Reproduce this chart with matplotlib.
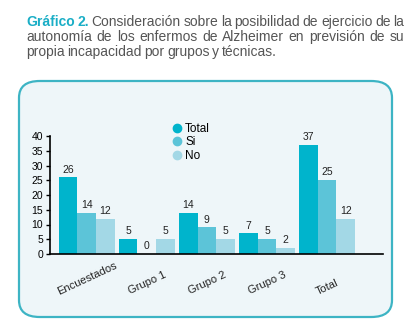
import matplotlib
matplotlib.use("Agg")
import matplotlib.pyplot as plt
import numpy as np
from matplotlib.patches import FancyBboxPatch
from matplotlib.lines import Line2D

# datos
grupos = ["Encuestados", "Grupo 1", "Grupo 2", "Grupo 3", "Total"]
series = ["Total", "Si", "No"]
total = [26, 5, 14, 7, 37]
si = [14, 0, 9, 5, 25]
no = [12, 5, 5, 2, 12]

colores = ["#00b4cc", "#5cc4d8", "#a3d8e6"]
W, H = 415, 335

fig = plt.figure(figsize=(W / 100, H / 100), dpi=100)
plt.rcParams['font.family'] = ['Liberation Sans', 'DejaVu Sans']


def fx(px):
    return px / W


def fy(py):
    return 1 - py / H


# caja redondeada
caja = FancyBboxPatch((fx(19), fy(317)), fx(373) - 0, fy(81) - fy(317),
                      boxstyle="round,pad=0,rounding_size=0.05",
                      transform=fig.transFigure, facecolor="#eef6f9",
                      edgecolor="#3db4c4", linewidth=1.6, zorder=-5)
fig.patches.append(caja)

# titulo justificado
lineas = [
    [("Gráfico", True), ("2.", True), ("Consideración", False), ("sobre", False), ("la", False),
     ("posibilidad", False), ("de", False), ("ejercicio", False), ("de", False), ("la", False)],
    [(w, False) for w in "autonomía de los enfermos de Alzheimer en previsión de su".split()],
    [(w, False) for w in "propia incapacidad por grupos y técnicas.".split()],
]
renderer = fig.canvas.get_renderer()
x0, x1 = 26, 404
fs_t = 10
for i, linea in enumerate(lineas):
    yb = 26 + i * 15
    textos = []
    for w, b in linea:
        t = fig.text(0, fy(yb), w, fontsize=fs_t, va="baseline",
                     color="#1aaec6" if b else "#555555",
                     fontweight="bold" if b else "normal")
        textos.append(t)
    anchos = [t.get_window_extent(renderer).width for t in textos]
    if i < 2:
        gap = (x1 - x0 - sum(anchos)) / (len(textos) - 1)
    else:
        gap = 2.6
    x = x0
    for t, a in zip(textos, anchos):
        t.set_x(fx(x))
        x += a + gap

# ejes
ax = fig.add_axes([fx(50), fy(254), fx(383) - fx(50), fy(136) - fy(254)])
ax.set_facecolor("none")
xs = np.arange(len(grupos))
w = 0.31
for k, (vals, nombre) in enumerate(zip([total, si, no], series)):
    b = ax.bar(xs + (k - 1) * w, vals, w, color=colores[k], label=nombre)
    ax.bar_label(b, padding=2, fontsize=7.5, color="#222222")

ax.set_xlim(-0.61, 4.93)
ax.set_ylim(0, 40)
ax.set_yticks(range(0, 45, 5))
ax.tick_params(axis="y", labelsize=7.5, length=3, width=1, pad=2)
ax.set_xticks([])
for s in ["top", "right"]:
    ax.spines[s].set_visible(False)
ax.spines["left"].set_linewidth(1.2)
ax.spines["bottom"].set_linewidth(1.2)

for xi, g in zip(xs, grupos):
    ax.text(xi, -0.36, g, transform=ax.get_xaxis_transform(), rotation=25,
            ha="center", va="bottom", fontsize=8, color="#222222")

handles = [Line2D([], [], marker="o", linestyle="", markersize=6,
                  markerfacecolor=c, markeredgecolor=c) for c in colores]
ax.legend(handles, series, loc="upper left", bbox_to_anchor=(fx(164), fy(117)),
          bbox_transform=fig.transFigure, frameon=False, fontsize=8.5,
          handletextpad=0.1, labelspacing=0.12, borderpad=0, handlelength=1.2)

fig.savefig("out.png", dpi=100)
